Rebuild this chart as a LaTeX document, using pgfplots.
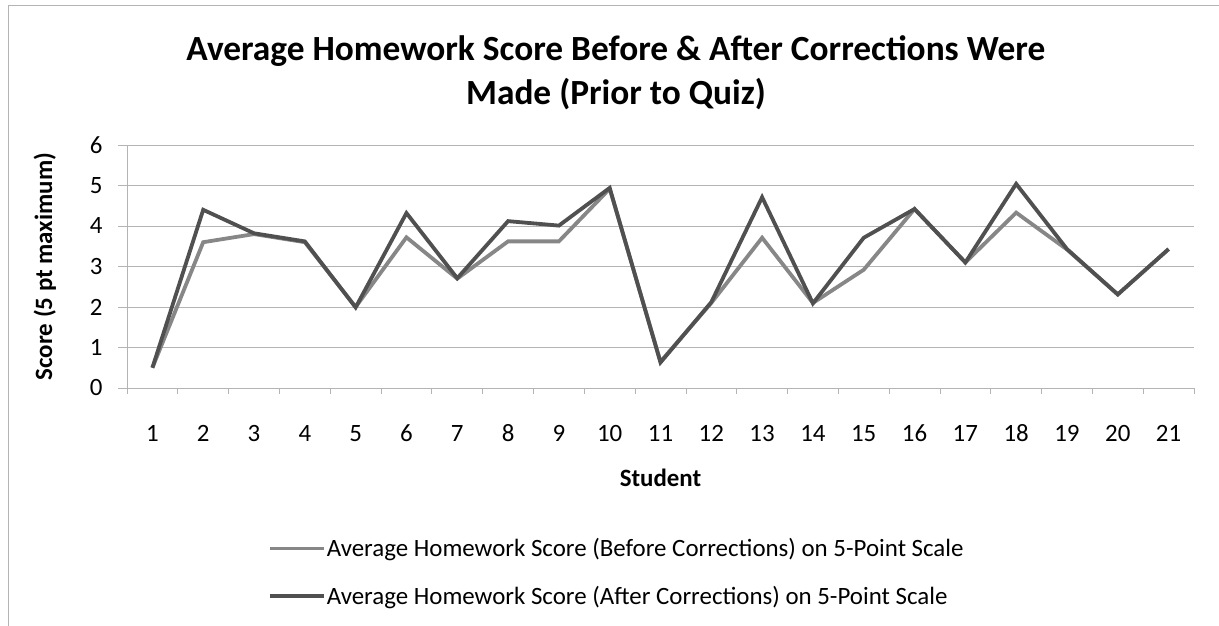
\documentclass[border=0pt]{standalone}
\usepackage{pgfplots}
\pgfplotsset{compat=1.18}
\usepackage{fontspec}
\setmainfont{Carlito}
\definecolor{darkline}{HTML}{505050}
\definecolor{lightline}{HTML}{878787}
\definecolor{gridc}{HTML}{B4B4B4}
\begin{document}
\begin{tikzpicture}
\path[use as bounding box] (0bp,0bp) rectangle (1219bp,626bp);
\draw[gridc, line width=0.8bp] (8bp,-5bp) -- (8bp,621bp) -- (1225bp,621bp);
\node[align=center, font=\bfseries\fontsize{35.5}{44}\selectfont] at (616bp,553bp)
  {Average Homework Score Before \& After Corrections Were\\Made (Prior to Quiz)};
\begin{axis}[
  at={(127bp,238bp)}, anchor=south west,
  scale only axis, width=1067bp, height=243bp,
  xmin=0.5, xmax=21.5, ymin=0, ymax=6,
  axis x line*=bottom, axis y line*=left,
  axis line style={gridc, line width=0.8bp, -},
  xtick={1,...,21},
  minor xtick={0.5,1.5,...,21.5},
  ytick={0,...,6},
  ymajorgrids, major grid style={gridc, line width=0.8bp},
  major x tick style={draw=none},
  minor x tick style={gridc, line width=0.8bp},
  y tick style={gridc, line width=0.8bp},
  tick align=outside,
  major tick length=9bp, minor tick length=6bp,
  /pgf/number format/assume math mode=true,
  ticklabel style={font=\fontsize{25}{30}\selectfont},
  xticklabel style={anchor=base, yshift=-44bp},
  yticklabel style={anchor=east, xshift=-12bp},
  xlabel={Student}, ylabel={Score (5 pt maximum)},
  xlabel style={font=\bfseries\fontsize{25}{30}\selectfont,
    at={(axis description cs:0.5,-0.370)}, anchor=center},
  ylabel style={font=\bfseries\fontsize{25}{30}\selectfont,
    at={(axis description cs:-0.0769,0.5)}, anchor=center},
  legend style={at={(axis description cs:0.132,-0.759)}, anchor=west, draw=none,
    fill=none, font=\fontsize{25}{30}\selectfont, row sep=26bp,
    inner sep=0pt, nodes={inner sep=1bp}},
  legend cell align=left,
  legend image code/.code={\draw[#1] (0bp,0bp) -- (54bp,0bp);},
]
\addplot[lightline, line width=3.8bp, line join=miter] coordinates {
(1,0.5) (2,3.6) (3,3.8) (4,3.6) (5,2.0) (6,3.72) (7,2.7) (8,3.62) (9,3.62) (10,4.92)
(11,0.65) (12,2.1) (13,3.71) (14,2.1) (15,2.92) (16,4.42) (17,3.1) (18,4.33) (19,3.42) (20,2.31) (21,3.43)};
\addlegendentry{Average Homework Score (Before Corrections) on 5-Point Scale}
\addplot[darkline, line width=3.8bp, line join=miter] coordinates {
(1,0.5) (2,4.4) (3,3.82) (4,3.62) (5,1.99) (6,4.32) (7,2.71) (8,4.12) (9,4.01) (10,4.94)
(11,0.63) (12,2.12) (13,4.71) (14,2.09) (15,3.71) (16,4.42) (17,3.1) (18,5.04) (19,3.43) (20,2.31) (21,3.43)};
\addlegendentry{Average Homework Score (After Corrections) on 5-Point Scale}
\end{axis}
\end{tikzpicture}
\end{document}
